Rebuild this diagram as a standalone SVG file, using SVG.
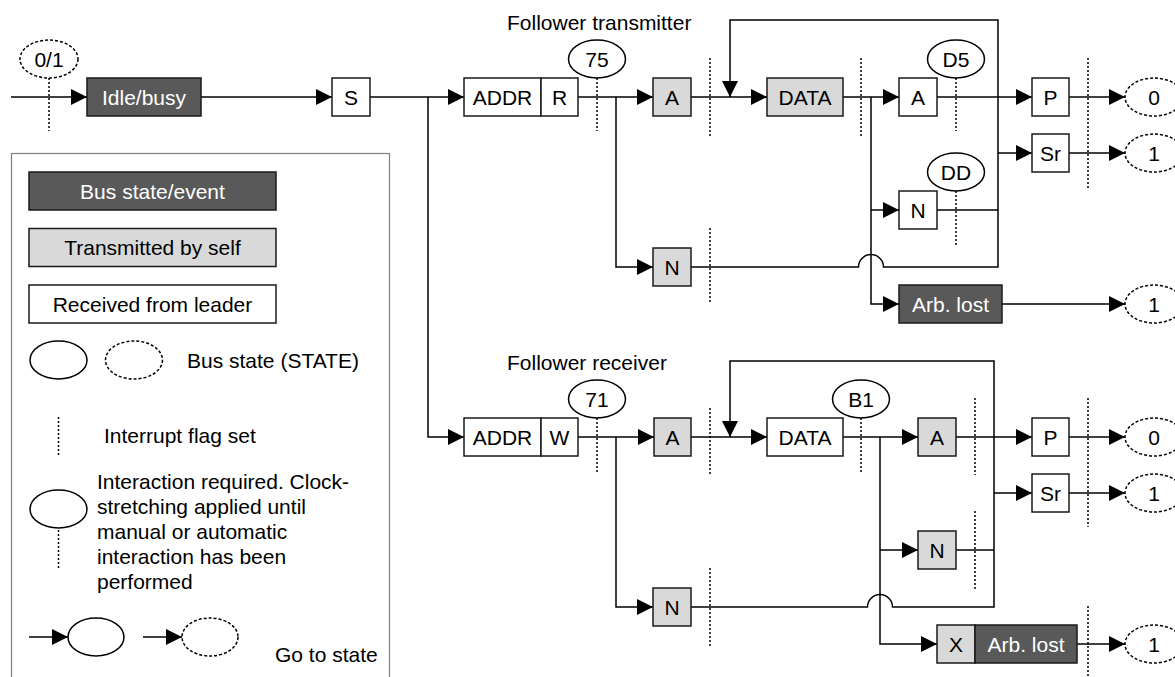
<svg xmlns="http://www.w3.org/2000/svg" width="1175" height="677" viewBox="0 0 1175 677">
<style>
.ln{fill:none;stroke:#000;stroke-width:1.5}
.dot{fill:none;stroke:#000;stroke-width:1.5;stroke-dasharray:2 2}
.bx{stroke:#1a1a1a;stroke-width:1.5}
.dark{fill:#595959}
.gray{fill:#d9d9d9}
.white{fill:#fff}
.el{fill:#fff;stroke:#000;stroke-width:1.5}
.eld{fill:#fff;stroke:#000;stroke-width:1.5;stroke-dasharray:3 2}
.t{font-family:"Liberation Sans",Arial,sans-serif;font-size:21px;fill:#000;text-anchor:middle}
.tl{font-family:"Liberation Sans",Arial,sans-serif;font-size:21px;fill:#000;text-anchor:start}
.tw{fill:#fff}
.lg{fill:none;stroke:#808080;stroke-width:1.2}
</style>
<defs>
<marker id="ah" markerUnits="userSpaceOnUse" markerWidth="16" markerHeight="16" refX="16" refY="8" orient="auto">
<path d="M0,0 L16,8 L0,16 z" fill="#000"/>
</marker>
</defs>
<rect width="1175" height="677" fill="#fff"/>

<!-- Legend -->
<g id="legend">
<rect class="lg" x="11.5" y="153.5" width="378" height="540"/>
<rect class="bx dark" x="29" y="172" width="247" height="38"/>
<text class="t tw" x="152.5" y="198.5">Bus state/event</text>
<rect class="bx gray" x="29" y="228.5" width="247" height="38"/>
<text class="t" x="152.5" y="255">Transmitted by self</text>
<rect class="bx white" x="29" y="285" width="247" height="38"/>
<text class="t" x="152.5" y="311.5">Received from leader</text>
<ellipse class="el" cx="58.5" cy="360" rx="28.5" ry="19"/>
<ellipse class="eld" cx="134" cy="360" rx="28.5" ry="19"/>
<text class="tl" x="187" y="367.5">Bus state (STATE)</text>
<line class="dot" x1="58.5" y1="417" x2="58.5" y2="455"/>
<text class="tl" x="104" y="442.5">Interrupt flag set</text>
<ellipse class="el" cx="58.5" cy="509" rx="28.5" ry="19"/>
<line class="dot" x1="58.5" y1="530" x2="58.5" y2="568"/>
<text class="tl" x="97" y="489">Interaction required. Clock-</text>
<text class="tl" x="97" y="514">stretching applied until</text>
<text class="tl" x="97" y="539">manual or automatic</text>
<text class="tl" x="97" y="564">interaction has been</text>
<text class="tl" x="97" y="589">performed</text>
<line class="ln" x1="29" y1="637" x2="68" y2="637" marker-end="url(#ah)"/>
<ellipse class="el" cx="96" cy="637" rx="28" ry="19"/>
<line class="ln" x1="143" y1="637" x2="182" y2="637" marker-end="url(#ah)"/>
<ellipse class="eld" cx="210" cy="637" rx="28" ry="19"/>
<text class="tl" x="275" y="662">Go to state</text>
</g>

<!-- Section labels -->
<text class="tl" x="507" y="30">Follower transmitter</text>
<text class="tl" x="507" y="370">Follower receiver</text>

<!-- Connectors -->
<g id="connectors">
<path class="ln" d="M11,97 H87" marker-end="url(#ah)"/>
<path class="ln" d="M201,97 H332" marker-end="url(#ah)"/>
<path class="ln" d="M370,97 H464" marker-end="url(#ah)"/>
<path class="ln" d="M428,97 V437 H464" marker-end="url(#ah)"/>
<!-- transmitter -->
<path class="ln" d="M578,97 H653" marker-end="url(#ah)"/>
<path class="ln" d="M616,97 V267 H653" marker-end="url(#ah)"/>
<path class="ln" d="M691,97 H767" marker-end="url(#ah)"/>
<path class="ln" d="M691,267 H858.5 A12.5,12.5 0 0 1 883.5,267 H998 V20 H730 V97" marker-end="url(#ah)"/>
<path class="ln" d="M843,97 H899" marker-end="url(#ah)"/>
<path class="ln" d="M871,97 V304 H899" marker-end="url(#ah)"/>
<path class="ln" d="M871,210 H899" marker-end="url(#ah)"/>
<path class="ln" d="M937,97 H1032" marker-end="url(#ah)"/>
<path class="ln" d="M998,153 H1032" marker-end="url(#ah)"/>
<path class="ln" d="M937,210 H998"/>
<path class="ln" d="M1069,97 H1125" marker-end="url(#ah)"/>
<path class="ln" d="M1069,153 H1125" marker-end="url(#ah)"/>
<path class="ln" d="M1002,304 H1125" marker-end="url(#ah)"/>
<!-- receiver -->
<path class="ln" d="M578,437 H654" marker-end="url(#ah)"/>
<path class="ln" d="M616,437 V607 H653" marker-end="url(#ah)"/>
<path class="ln" d="M691,437 H767" marker-end="url(#ah)"/>
<path class="ln" d="M691,607 H867.5 A12.5,12.5 0 0 1 892.5,607 H994 V361 H730 V437" marker-end="url(#ah)"/>
<path class="ln" d="M843,437 H918" marker-end="url(#ah)"/>
<path class="ln" d="M880,437 V644 H937" marker-end="url(#ah)"/>
<path class="ln" d="M880,550 H918" marker-end="url(#ah)"/>
<path class="ln" d="M956,437 H1032" marker-end="url(#ah)"/>
<path class="ln" d="M994,493 H1032" marker-end="url(#ah)"/>
<path class="ln" d="M956,550 H994"/>
<path class="ln" d="M1069,437 H1125" marker-end="url(#ah)"/>
<path class="ln" d="M1069,493 H1125" marker-end="url(#ah)"/>
<path class="ln" d="M1077,644 H1125" marker-end="url(#ah)"/>
</g>

<!-- Interrupt flags -->
<g id="flags">
<line class="dot" x1="49" y1="78" x2="49" y2="131"/>
<line class="dot" x1="597" y1="78" x2="597" y2="131"/>
<line class="dot" x1="710" y1="58" x2="710" y2="136"/>
<line class="dot" x1="861" y1="58" x2="861" y2="136"/>
<line class="dot" x1="956" y1="78" x2="956" y2="131"/>
<line class="dot" x1="1088" y1="58" x2="1088" y2="188"/>
<line class="dot" x1="710" y1="228" x2="710" y2="304"/>
<line class="dot" x1="956" y1="191" x2="956" y2="245"/>
<line class="dot" x1="597" y1="418" x2="597" y2="472"/>
<line class="dot" x1="710" y1="408" x2="710" y2="476"/>
<line class="dot" x1="861" y1="418" x2="861" y2="472"/>
<line class="dot" x1="975" y1="398" x2="975" y2="475"/>
<line class="dot" x1="1088" y1="398" x2="1088" y2="527"/>
<line class="dot" x1="975" y1="511" x2="975" y2="589"/>
<line class="dot" x1="710" y1="568" x2="710" y2="646"/>
<line class="dot" x1="1088" y1="606" x2="1088" y2="677"/>
</g>

<!-- Nodes: top -->
<g id="st01"><ellipse class="eld" cx="49" cy="59" rx="29" ry="19"/><text class="t" x="49" y="66.5">0/1</text></g>
<g id="idle"><rect class="bx dark" x="87" y="78" width="114" height="38"/><text class="t tw" x="144" y="104.5">Idle/busy</text></g>
<g id="start"><rect class="bx white" x="332" y="78" width="38" height="38"/><text class="t" x="351" y="104.5">S</text></g>
<g id="addrR"><rect class="bx white" x="464" y="78" width="77" height="38"/><rect class="bx white" x="541" y="78" width="37" height="38"/><text class="t" x="502.5" y="104.5">ADDR</text><text class="t" x="559.5" y="104.5">R</text></g>
<g id="st75"><ellipse class="el" cx="597" cy="59" rx="28.5" ry="19"/><text class="t" x="597" y="66.5">75</text></g>
<g id="tA1"><rect class="bx gray" x="653" y="78" width="38" height="38"/><text class="t" x="672" y="104.5">A</text></g>
<g id="tData"><rect class="bx gray" x="767" y="78" width="76" height="38"/><text class="t" x="805" y="104.5">DATA</text></g>
<g id="tA2"><rect class="bx white" x="899" y="78" width="38" height="38"/><text class="t" x="918" y="104.5">A</text></g>
<g id="stD5"><ellipse class="el" cx="956" cy="59" rx="28.5" ry="19"/><text class="t" x="956" y="66.5">D5</text></g>
<g id="tN2"><rect class="bx white" x="899" y="191" width="38" height="38"/><text class="t" x="918" y="217.5">N</text></g>
<g id="stDD"><ellipse class="el" cx="956" cy="172" rx="28.5" ry="19"/><text class="t" x="956" y="179.5">DD</text></g>
<g id="tN1"><rect class="bx gray" x="653" y="248" width="38" height="38"/><text class="t" x="672" y="274.5">N</text></g>
<g id="tArb"><rect class="bx dark" x="899" y="285" width="103" height="38"/><text class="t tw" x="950.5" y="311.5">Arb. lost</text></g>
<g id="tP"><rect class="bx white" x="1032" y="78" width="37" height="38"/><text class="t" x="1050.5" y="104.5">P</text></g>
<g id="tSr"><rect class="bx white" x="1032" y="134" width="37" height="38"/><text class="t" x="1050.5" y="160.5">Sr</text></g>
<g id="tS0"><ellipse class="eld" cx="1154" cy="97" rx="29" ry="19"/><text class="t" x="1154" y="104.5">0</text></g>
<g id="tS1a"><ellipse class="eld" cx="1154" cy="153" rx="29" ry="19"/><text class="t" x="1154" y="160.5">1</text></g>
<g id="tS1b"><ellipse class="eld" cx="1154" cy="304" rx="29" ry="19"/><text class="t" x="1154" y="311.5">1</text></g>

<!-- Nodes: bottom -->
<g id="addrW"><rect class="bx white" x="464" y="418" width="77" height="38"/><rect class="bx white" x="541" y="418" width="37" height="38"/><text class="t" x="502.5" y="444.5">ADDR</text><text class="t" x="559.5" y="444.5">W</text></g>
<g id="st71"><ellipse class="el" cx="597" cy="399" rx="28.5" ry="19"/><text class="t" x="597" y="406.5">71</text></g>
<g id="rA1"><rect class="bx gray" x="654" y="418" width="37" height="38"/><text class="t" x="672.5" y="444.5">A</text></g>
<g id="rData"><rect class="bx white" x="767" y="418" width="76" height="38"/><text class="t" x="805" y="444.5">DATA</text></g>
<g id="stB1"><ellipse class="el" cx="861" cy="399" rx="28.5" ry="19"/><text class="t" x="861" y="406.5">B1</text></g>
<g id="rA2"><rect class="bx gray" x="918" y="418" width="38" height="38"/><text class="t" x="937" y="444.5">A</text></g>
<g id="rN2"><rect class="bx gray" x="918" y="531" width="38" height="38"/><text class="t" x="937" y="557.5">N</text></g>
<g id="rN1"><rect class="bx gray" x="653" y="588" width="38" height="38"/><text class="t" x="672" y="614.5">N</text></g>
<g id="rArb"><rect class="bx gray" x="937" y="625" width="38" height="38"/><rect class="bx dark" x="975" y="625" width="102" height="38"/><text class="t" x="956" y="651.5">X</text><text class="t tw" x="1026" y="651.5">Arb. lost</text></g>
<g id="rP"><rect class="bx white" x="1032" y="418" width="37" height="38"/><text class="t" x="1050.5" y="444.5">P</text></g>
<g id="rSr"><rect class="bx white" x="1032" y="474" width="37" height="38"/><text class="t" x="1050.5" y="500.5">Sr</text></g>
<g id="rS0"><ellipse class="eld" cx="1154" cy="437" rx="29" ry="19"/><text class="t" x="1154" y="444.5">0</text></g>
<g id="rS1a"><ellipse class="eld" cx="1154" cy="493" rx="29" ry="19"/><text class="t" x="1154" y="500.5">1</text></g>
<g id="rS1b"><ellipse class="eld" cx="1154" cy="644" rx="29" ry="19"/><text class="t" x="1154" y="651.5">1</text></g>
</svg>
